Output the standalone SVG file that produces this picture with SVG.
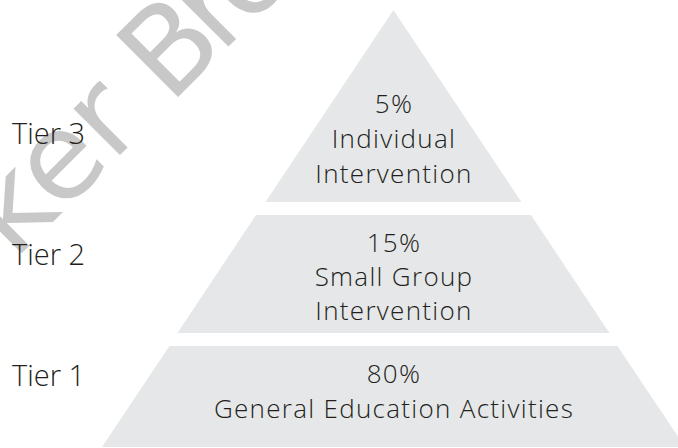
<svg xmlns="http://www.w3.org/2000/svg" width="678" height="448" viewBox="0 0 678 448">
  <style>
    .band { fill: #e6e7e8; }
    .label { font-family: "Open Sans", "Lato", "Liberation Sans", sans-serif; font-weight: 300; fill: #231f20; }
    .center { font-size: 26px; text-anchor: middle; letter-spacing: 1.3px; }
    .tier { font-size: 29px; }
    .mark { font-family: "DejaVu Sans", "Liberation Sans", sans-serif; font-size: 120px; fill: #c8c8c8; }
  </style>
  <rect width="678" height="448" fill="#ffffff"/>

  <!-- pyramid bands -->
  <g id="tier3">
    <polygon class="band" points="393.5,10 521.5,202 265.5,202"/>
    <text class="label center" x="394" y="113">5%</text>
    <text class="label center" x="394" y="148">Individual</text>
    <text class="label center" x="394" y="182.5">Intervention</text>
  </g>
  <g id="tier2">
    <polygon class="band" points="256,215 531,215 609.5,333 177.5,333"/>
    <text class="label center" x="394" y="252">15%</text>
    <text class="label center" x="394" y="286">Small Group</text>
    <text class="label center" x="394" y="320">Intervention</text>
  </g>
  <g id="tier1">
    <polygon class="band" points="169.5,346 617.5,346 685,447 102,447"/>
    <text class="label center" x="394" y="383">80%</text>
    <text class="label center" x="394" y="418">General Education Activities</text>
  </g>

  <!-- watermark, set along a 45° baseline -->
  <g id="watermark">
    <text class="mark" transform="translate(-120.2,395.2) rotate(-45)">Parker</text>
    <text class="mark" transform="translate(169.7,105.3) rotate(-45)" letter-spacing="-10">Bro</text>
  </g>

  <!-- tier labels -->
  <g id="tier-labels">
    <text class="label tier" x="12" y="144">Tier 3</text>
    <text class="label tier" x="12" y="265">Tier 2</text>
    <text class="label tier" x="12" y="386">Tier 1</text>
  </g>
</svg>
